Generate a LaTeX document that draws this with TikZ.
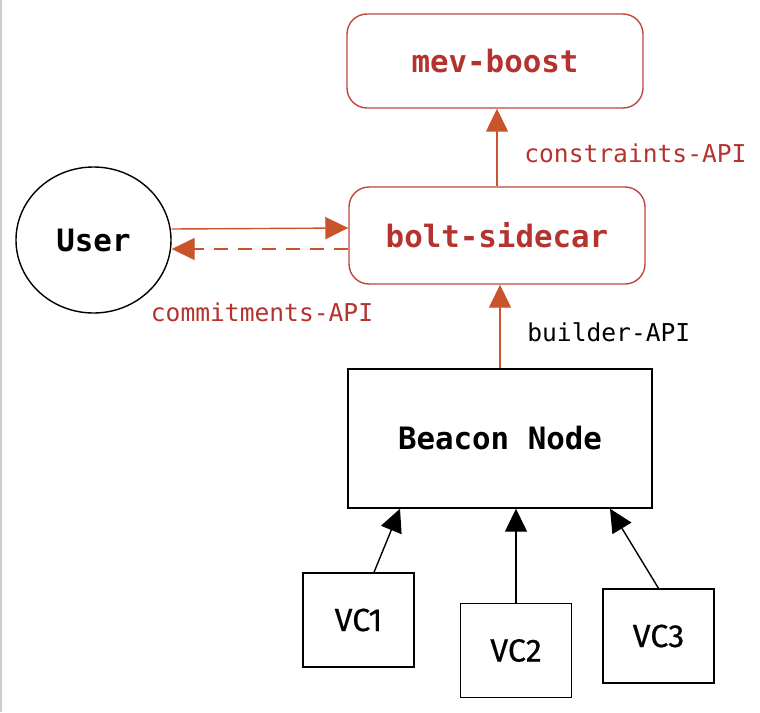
\documentclass[tikz,border=0pt]{standalone}
\usepackage{fontspec}
\setmonofont{DejaVu Sans Mono}
\setsansfont{Fira Sans}
\usepackage{xcolor}
\definecolor{colBolt}{HTML}{C0453F}
\definecolor{colBoltText}{HTML}{B5332E}
\definecolor{colArrow}{HTML}{C9532B}
\usepackage{tikz}
\usetikzlibrary{arrows.meta, positioning, calc, shapes.geometric}

\begin{document}
\begin{tikzpicture}[
				x=0.5pt, y=-0.5pt,
				boltbox/.style={draw=colBolt, line width=0.7pt, rounded corners=10pt,
				      minimum width=148pt, minimum height=48pt,
				      font=\fontsize{15.4}{18}\ttfamily\bfseries, text=colBoltText},
				plainbox/.style={draw, line width=0.7pt, font=\fontsize{15.4}{18}\ttfamily\bfseries},
				vcbox/.style={draw, line width=0.7pt, minimum width=55.5pt, minimum height=47pt,
				      font=\fontsize{16}{19}\sffamily\addfontfeature{FakeBold=0.6}},
				apilabel/.style={font=\fontsize{12.3}{15}\ttfamily},
				redarrow/.style={-{Triangle[length=11.5pt, width=11pt]}, line width=0.7pt, colArrow},
				vcarrow/.style={-{Triangle[length=11.5pt, width=11pt]}, line width=0.7pt, black}
			]
				\useasboundingbox (0,0) rectangle (760,712);
				\draw[black!20, line width=1pt] (1,0) -- (1,712);
				\node[boltbox, minimum height=47pt] (mev) at (495,61) {mev-boost};
				\node[boltbox, minimum height=48.5pt] (bolt) at (497,235.5) {bolt-sidecar};
				\node[plainbox, ellipse, minimum width=77.5pt, minimum height=73pt, inner sep=0pt]
				     (user) at (93.5,240) {User};
				\node[plainbox, minimum width=152pt, minimum height=69.5pt]
				     (beacon) at (500,438.5) {Beacon Node};
				\node[vcbox] (vc1) at (358.5,620) {VC1};
				\node[vcbox] (vc2) at (516,650.5) {VC2};
				\node[vcbox] (vc3) at (658.5,636) {VC3};
				\draw[redarrow] (bolt.north) -- (bolt.north |- mev.south)
				     node[apilabel, text=colBoltText, midway, right, xshift=10pt, yshift=-3pt] {constraints-API};
				\draw[redarrow] ([yshift=5.5pt]user.east) -- ([yshift=3.75pt]bolt.west);
				\draw[redarrow, dash pattern=on 7pt off 5pt] ([yshift=-6.75pt]bolt.west) -- ([yshift=-4.5pt]user.east);
				\node[apilabel, text=colBoltText] (commit) at (262,312) {commitments-API};
				\draw[redarrow] (beacon.north) -- (beacon.north |- bolt.south)
				     node[apilabel, text=black, midway, right, xshift=10pt, yshift=-3pt] {builder-API};
				\draw[vcarrow] ([xshift=7.75pt]vc1.north) -- ([xshift=-50pt]beacon.south);
				\draw[vcarrow] (vc2.north) -- (vc2.north |- beacon.south);
				\draw[vcarrow] (vc3.north) -- ([xshift=55pt]beacon.south);
			\end{tikzpicture}
\end{document}
